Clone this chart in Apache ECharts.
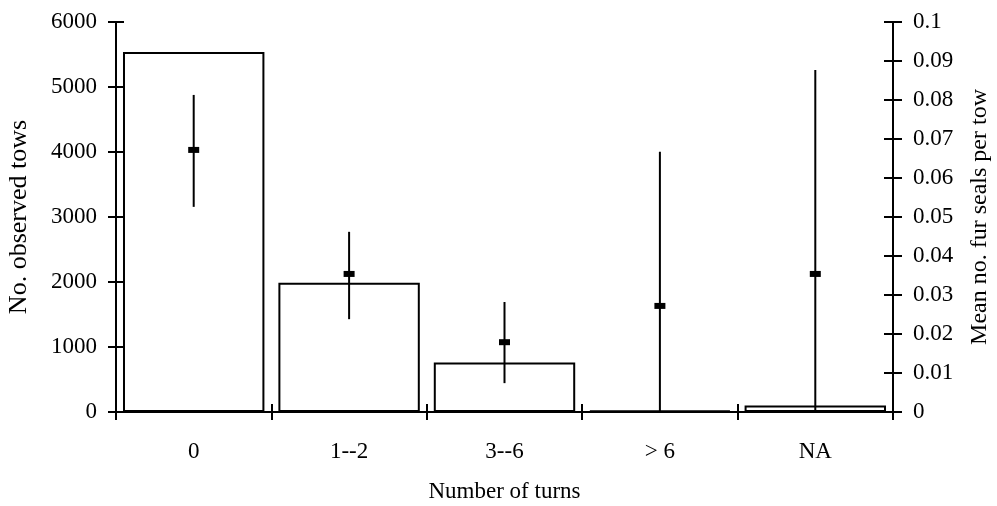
<!DOCTYPE html>
<html>
<head>
<meta charset="utf-8">
<script src="https://cdn.jsdelivr.net/npm/echarts@6/dist/echarts.min.js"></script>
<style>html,body{margin:0;padding:0;background:#fff}#c{width:997px;height:506px}</style>
</head>
<body>
<div id="c"></div>
<script>
const categories = ['0', '1--2', '3--6', '> 6', 'NA'];
const observedTows = [5540, 1990, 760, 20, 100];
const meanSeals = [0.0672, 0.0354, 0.0179, 0.0272, 0.0354];
const lowerCI = [0.0526, 0.0238, 0.0074, 0, 0];
const upperCI = [0.0813, 0.0462, 0.0282, 0.0667, 0.0877];
const leftTicks = [0, 1000, 2000, 3000, 4000, 5000, 6000];
const rightTicks = [0, 0.01, 0.02, 0.03, 0.04, 0.05, 0.06, 0.07, 0.08, 0.09, 0.1];

const font = 'Liberation Serif';
const chart = echarts.init(document.getElementById('c'));
const lineStyle = {color: '#000', width: 2};
const labelStyle = {fontFamily: font, fontSize: 23, color: '#000'};

const errData = categories.map((c, i) => [i, meanSeals[i], lowerCI[i], upperCI[i]]);

chart.setOption({
  animation: false,
  backgroundColor: '#fff',
  grid: {left: 116, right: 104, top: 22, bottom: 94, containLabel: false, outerBoundsMode: 'none'},
  xAxis: [
    {
      type: 'category', data: categories, boundaryGap: true,
      axisLine: {lineStyle: lineStyle},
      axisTick: {show: true, length: 8, lineStyle: {color: '#000', width: 2}},
      axisLabel: Object.assign({margin: 28}, labelStyle),
      name: 'Number of turns', nameLocation: 'middle', nameGap: 68,
      nameTextStyle: labelStyle
    },
    {
      type: 'category', data: categories, boundaryGap: true, position: 'bottom',
      axisLine: {show: false},
      axisTick: {show: true, inside: true, length: 8, lineStyle: {color: '#000', width: 2}},
      axisLabel: {show: false}
    }
  ],
  yAxis: [
    {
      type: 'value', min: 0, max: 6000, interval: 1000, position: 'left',
      axisLine: {show: true, lineStyle: lineStyle},
      axisTick: {show: true, length: 8, lineStyle: {color: '#000', width: 2}},
      splitLine: {show: false},
      axisLabel: Object.assign({margin: 19, formatter: v => leftTicks.includes(v) ? String(v) : ''}, labelStyle),
      name: 'No. observed tows', nameLocation: 'middle', nameGap: 84, nameRotate: 90,
      nameTextStyle: Object.assign({}, labelStyle, {fontSize: 26})
    },
    {
      type: 'value', min: 0, max: 0.1, interval: 0.01, position: 'right',
      axisLine: {show: true, lineStyle: lineStyle},
      axisTick: {show: true, length: 9, lineStyle: {color: '#000', width: 2}},
      splitLine: {show: false},
      axisLabel: Object.assign({margin: 20, formatter: v => {
        const r = rightTicks.find(t => Math.abs(t - v) < 1e-9);
        return r === undefined ? '' : String(r);
      }}, labelStyle),
      name: 'Mean no. fur seals per tow', nameLocation: 'middle', nameGap: 75, nameRotate: 90,
      nameTextStyle: Object.assign({}, labelStyle, {fontSize: 24})
    },
    {
      type: 'value', min: 0, max: 6000, interval: 1000, position: 'left',
      axisLine: {show: false},
      axisTick: {show: true, inside: true, length: 8, lineStyle: {color: '#000', width: 2}},
      splitLine: {show: false}, axisLabel: {show: false}
    },
    {
      type: 'value', min: 0, max: 0.1, interval: 0.01, position: 'right',
      axisLine: {show: false},
      axisTick: {show: true, inside: true, length: 9, lineStyle: {color: '#000', width: 2}},
      splitLine: {show: false}, axisLabel: {show: false}
    }
  ],
  series: [
    {
      type: 'bar', data: observedTows, xAxisIndex: 0, yAxisIndex: 0,
      barCategoryGap: '9%',
      itemStyle: {color: '#fff', borderColor: '#000', borderWidth: 2},
      z: 2
    },
    {
      type: 'custom', xAxisIndex: 0, yAxisIndex: 1, data: errData, z: 5,
      renderItem: function (params, api) {
        const x = api.value(0);
        const pm = api.coord([x, api.value(1)]);
        const pl = api.coord([x, api.value(2)]);
        const ph = api.coord([x, api.value(3)]);
        return {
          type: 'group',
          children: [
            {type: 'line', shape: {x1: pm[0], y1: pl[1], x2: pm[0], y2: ph[1]},
             style: {stroke: '#000', lineWidth: 2}},
            {type: 'rect', shape: {x: pm[0] - 5.5, y: pm[1] - 3, width: 11, height: 6},
             style: {fill: '#000'}}
          ]
        };
      }
    }
  ]
});
</script>
</body>
</html>
